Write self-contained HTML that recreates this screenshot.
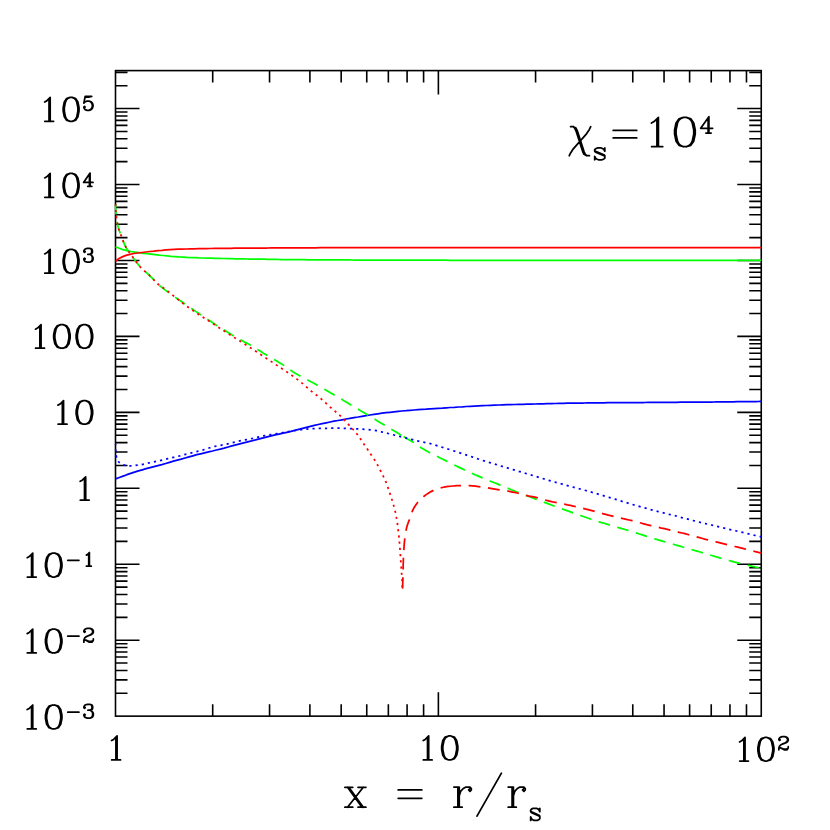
<!DOCTYPE html>
<html><head><meta charset="utf-8"><title>chart</title>
<style>html,body{margin:0;padding:0;background:#fff;font-family:"Liberation Sans",sans-serif}svg{display:block}</style></head>
<body>
<svg width="830" height="830" viewBox="0 0 830 830">
<defs><path id="g0" d="M9 -21 6 -20 4 -17 3 -12 3 -9 4 -4 6 -1 9 0 11 0 14 -1 16 -4 17 -9 17 -12 16 -17 14 -20 11 -21 9 -21 7 -20 6 -19 5 -17 4 -12 4 -9 5 -4 6 -2 7 -1 9 0M11 -21 13 -20 14 -19 15 -17 16 -12 16 -9 15 -4 14 -2 13 -1 11 0" vector-effect="non-scaling-stroke"/><path id="g1" d="M6.2 -17 8 -18 11 -21 11 0M10 -20 10 0M6.3 0 14 0" vector-effect="non-scaling-stroke"/><path id="g2" d="M6 -3 11 0 15 0 16 -1 17 -3 17 -5M6 -3 11 -1 14 -1 16 -2 17 -3M6 -3 4 -3 3 -2M12 -21 8 -21 5 -20 4 -19 3 -17 3 -16 4 -15 5 -16 4 -17M12 -21 15 -20 16 -19 17 -17 17 -15 16 -13 13 -11 8 -9M12 -21 14 -20 15 -19 16 -17 16 -15 15 -13 12 -11 6 -8 4 -6 3 -3 3 0" vector-effect="non-scaling-stroke"/><path id="g3" d="M12 -21 8 -21 5 -20 4 -19 3 -17 3 -16 4 -15 5 -16 4 -17M12 -21 15 -20 16 -18 16 -15 15 -13 12 -12 9 -12M12 -21 14 -20 15 -18 15 -15 14 -13 12 -12 14 -11 16 -9 17 -7 17 -4 16 -2 15 -1 12 0 8 0 5 -1 4 -2 3 -4 3 -5 4 -6 5 -5 4 -4M12 0 14 -1 15 -2 16 -4 16 -7 15 -10" vector-effect="non-scaling-stroke"/><path id="g4" d="M13 0 13 -21 2 -6 18 -6M12 -19 12 0M9 0 16 0" vector-effect="non-scaling-stroke"/><path id="g5" d="M5 -20 10 -20 15 -21 5 -21 3 -11 5 -13 8 -14 11 -14 14 -13 16 -11 17 -8 17 -6 16 -3 14 -1 11 0 8 0 5 -1 4 -2 3 -4 3 -5 4 -6 5 -5 4 -4M11 -14 13 -13 15 -11 16 -8 16 -6 15 -3 13 -1 11 0" vector-effect="non-scaling-stroke"/><path id="gminus" d="M4 -9 22 -9" vector-effect="non-scaling-stroke"/><path id="gx" d="M16 -14 4 0M4 -14 15 0M5 -14 16 0M12 -14 18 -14M2 0 8 0M2 -14 8 -14M12 0 18 0" vector-effect="non-scaling-stroke"/><path id="geq" d="M4 -12 22 -12M4 -6 22 -6" vector-effect="non-scaling-stroke"/><path id="gr" d="M6 0 6 -14 2 -14M5 -14 5 0M2 0 8.2 0M6 -8 7 -11 9 -13 11 -14 14 -14 15 -13 15 -12 14 -11 13 -12 14 -13" vector-effect="non-scaling-stroke"/><path id="gslash" d="M20 -25 2 7" vector-effect="non-scaling-stroke"/><path id="gs" d="M13 -12 14 -10 14 -14 13 -12 12 -13 10 -14 6 -14 4 -13 3 -12 3 -10 4 -9 13 -5 14 -4M4 -2 3 0 3 -4 4 -2 5 -1 7 0 11 0 13 -1 14 -2 14 -5 13 -6 4 -10 3 -11" vector-effect="non-scaling-stroke"/><path id="gchi" d="M2 -14 4 -14 6 -13 7 -11 12 4 13 6 14 7M4 -14 5 -13 6 -11 11 4 12 6 14 7 16 7M17 -14 16 -12 14 -9 4 2 2 5 1 7" vector-effect="non-scaling-stroke"/>
<clipPath id="cp"><rect x="114.6" y="69.7" width="647.55" height="647.35"/></clipPath>
</defs>
<rect width="830" height="830" fill="#fff"/>
<g fill="none" stroke="#000" stroke-width="1.6" stroke-linecap="square" stroke-linejoin="miter">
<path d="M115.5 693.29h12.0M761.25 693.29h-12.0M115.5 679.91h12.0M761.25 679.91h-12.0M115.5 670.43h12.0M761.25 670.43h-12.0M115.5 663.07h12.0M761.25 663.07h-12.0M115.5 657.05h12.0M761.25 657.05h-12.0M115.5 651.97h12.0M761.25 651.97h-12.0M115.5 647.56h12.0M761.25 647.56h-12.0M115.5 643.68h12.0M761.25 643.68h-12.0M115.5 640.2h24.0M761.25 640.2h-24.0M115.5 617.34h12.0M761.25 617.34h-12.0M115.5 603.97h12.0M761.25 603.97h-12.0M115.5 594.48h12.0M761.25 594.48h-12.0M115.5 587.12h12.0M761.25 587.12h-12.0M115.5 581.1h12.0M761.25 581.1h-12.0M115.5 576.02h12.0M761.25 576.02h-12.0M115.5 571.62h12.0M761.25 571.62h-12.0M115.5 567.73h12.0M761.25 567.73h-12.0M115.5 564.26h24.0M761.25 564.26h-24.0M115.5 541.39h12.0M761.25 541.39h-12.0M115.5 528.02h12.0M761.25 528.02h-12.0M115.5 518.53h12.0M761.25 518.53h-12.0M115.5 511.17h12.0M761.25 511.17h-12.0M115.5 505.16h12.0M761.25 505.16h-12.0M115.5 500.07h12.0M761.25 500.07h-12.0M115.5 495.67h12.0M761.25 495.67h-12.0M115.5 491.78h12.0M761.25 491.78h-12.0M115.5 488.31h24.0M761.25 488.31h-24.0M115.5 465.45h12.0M761.25 465.45h-12.0M115.5 452.07h12.0M761.25 452.07h-12.0M115.5 442.58h12.0M761.25 442.58h-12.0M115.5 435.22h12.0M761.25 435.22h-12.0M115.5 429.21h12.0M761.25 429.21h-12.0M115.5 424.13h12.0M761.25 424.13h-12.0M115.5 419.72h12.0M761.25 419.72h-12.0M115.5 415.84h12.0M761.25 415.84h-12.0M115.5 412.36h24.0M761.25 412.36h-24.0M115.5 389.5h12.0M761.25 389.5h-12.0M115.5 376.13h12.0M761.25 376.13h-12.0M115.5 366.64h12.0M761.25 366.64h-12.0M115.5 359.28h12.0M761.25 359.28h-12.0M115.5 353.26h12.0M761.25 353.26h-12.0M115.5 348.18h12.0M761.25 348.18h-12.0M115.5 343.77h12.0M761.25 343.77h-12.0M115.5 339.89h12.0M761.25 339.89h-12.0M115.5 336.41h24.0M761.25 336.41h-24.0M115.5 313.55h12.0M761.25 313.55h-12.0M115.5 300.18h12.0M761.25 300.18h-12.0M115.5 290.69h12.0M761.25 290.69h-12.0M115.5 283.33h12.0M761.25 283.33h-12.0M115.5 277.32h12.0M761.25 277.32h-12.0M115.5 272.23h12.0M761.25 272.23h-12.0M115.5 267.83h12.0M761.25 267.83h-12.0M115.5 263.94h12.0M761.25 263.94h-12.0M115.5 260.47h24.0M761.25 260.47h-24.0M115.5 237.61h12.0M761.25 237.61h-12.0M115.5 224.23h12.0M761.25 224.23h-12.0M115.5 214.74h12.0M761.25 214.74h-12.0M115.5 207.38h12.0M761.25 207.38h-12.0M115.5 201.37h12.0M761.25 201.37h-12.0M115.5 196.28h12.0M761.25 196.28h-12.0M115.5 191.88h12.0M761.25 191.88h-12.0M115.5 188h12.0M761.25 188h-12.0M115.5 184.52h24.0M761.25 184.52h-24.0M115.5 161.66h12.0M761.25 161.66h-12.0M115.5 148.28h12.0M761.25 148.28h-12.0M115.5 138.8h12.0M761.25 138.8h-12.0M115.5 131.44h12.0M761.25 131.44h-12.0M115.5 125.42h12.0M761.25 125.42h-12.0M115.5 120.34h12.0M761.25 120.34h-12.0M115.5 115.93h12.0M761.25 115.93h-12.0M115.5 112.05h12.0M761.25 112.05h-12.0M115.5 108.57h24.0M761.25 108.57h-24.0M115.5 85.71h12.0M761.25 85.71h-12.0M115.5 72.34h12.0M761.25 72.34h-12.0M212.7 716.15v-12.0M212.7 70.6v12.0M269.55 716.15v-12.0M269.55 70.6v12.0M309.89 716.15v-12.0M309.89 70.6v12.0M341.18 716.15v-12.0M341.18 70.6v12.0M366.75 716.15v-12.0M366.75 70.6v12.0M388.36 716.15v-12.0M388.36 70.6v12.0M407.09 716.15v-12.0M407.09 70.6v12.0M423.6 716.15v-12.0M423.6 70.6v12.0M438.38 716.15v-24.0M438.38 70.6v24.0M535.57 716.15v-12.0M535.57 70.6v12.0M592.43 716.15v-12.0M592.43 70.6v12.0M632.77 716.15v-12.0M632.77 70.6v12.0M664.05 716.15v-12.0M664.05 70.6v12.0M689.62 716.15v-12.0M689.62 70.6v12.0M711.24 716.15v-12.0M711.24 70.6v12.0M729.96 716.15v-12.0M729.96 70.6v12.0M746.48 716.15v-12.0M746.48 70.6v12.0" stroke-linecap="butt"/>
<rect x="115.5" y="70.6" width="645.75" height="645.55"/>
</g>
<g fill="none" stroke-width="1.6" stroke-linecap="butt" stroke-linejoin="round" clip-path="url(#cp)">
<path d="M115.5 246.7 119.2 248.3 123.0 249.7 127.0 250.6 130.9 251.5 134.9 252.2 138.9 252.7 142.9 253.3 146.9 253.7 150.9 254.2 154.9 254.7 159.0 255.2 163.0 255.5 167.0 255.9 171.0 256.3 175.1 256.6 179.1 256.9 183.1 257.1 187.2 257.4 191.2 257.6 195.2 257.7 199.3 257.9 203.3 258.0 207.4 258.1 211.4 258.2 215.5 258.3 219.5 258.4 223.5 258.5 227.6 258.6 231.6 258.7 235.7 258.8 239.7 258.8 243.8 258.9 247.8 259.0 251.8 259.0 255.9 259.1 259.9 259.2 264.0 259.2 268.0 259.3 272.1 259.4 276.1 259.4 280.1 259.5 284.2 259.5 288.2 259.6 292.3 259.6 296.3 259.7 300.4 259.7 304.4 259.7 308.4 259.8 312.5 259.8 316.5 259.8 320.6 259.8 324.6 259.8 328.7 259.9 332.7 259.9 336.7 259.9 340.8 259.9 344.8 259.9 348.9 259.9 352.9 260.0 357.0 260.0 361.0 260.0 365.0 260.0 369.1 260.0 373.1 260.0 377.2 260.0 381.2 260.0 385.3 260.1 389.3 260.1 393.4 260.1 397.4 260.1 401.4 260.1 405.5 260.1 409.5 260.1 413.6 260.1 417.6 260.2 421.7 260.2 425.7 260.2 429.7 260.2 433.8 260.2 437.8 260.2 441.9 260.2 445.9 260.2 450.0 260.3 454.0 260.3 458.0 260.3 462.1 260.3 466.1 260.3 470.2 260.3 474.2 260.3 478.3 260.3 482.3 260.3 486.4 260.3 490.4 260.3 494.4 260.3 498.5 260.3 502.5 260.3 506.6 260.3 510.6 260.3 514.7 260.3 518.7 260.3 522.7 260.3 526.8 260.3 530.8 260.3 534.9 260.3 538.9 260.3 543.0 260.3 547.0 260.3 551.0 260.3 555.1 260.3 559.1 260.3 563.2 260.3 567.2 260.3 571.3 260.3 575.3 260.3 579.3 260.3 583.4 260.3 587.4 260.3 591.5 260.3 595.5 260.3 599.6 260.3 603.6 260.3 607.7 260.3 611.7 260.3 615.7 260.3 619.8 260.3 623.8 260.3 627.9 260.3 631.9 260.3 636.0 260.3 640.0 260.3 644.0 260.3 648.1 260.3 652.1 260.3 656.2 260.3 660.2 260.3 664.3 260.3 668.3 260.3 672.3 260.3 676.4 260.3 680.4 260.3 684.5 260.3 688.5 260.3 692.6 260.3 696.6 260.3 700.6 260.3 704.7 260.3 708.7 260.3 712.8 260.3 716.8 260.3 720.9 260.3 724.9 260.3 729.0 260.3 733.0 260.3 737.0 260.3 741.1 260.3 745.1 260.3 749.2 260.3 753.2 260.3 757.3 260.3 761.3 260.3" stroke="#00ff00" stroke-width="1.75"/>
<path d="M115.5 261.3 118.6 258.7 122.2 256.9 126.0 255.4 129.9 254.3 133.9 253.5 137.9 253.0 141.9 252.5 145.9 252.0 149.9 251.5 154.0 251.1 158.0 250.6 162.0 250.3 166.0 249.9 170.1 249.6 174.1 249.4 178.2 249.2 182.2 249.1 186.3 249.0 190.3 248.9 194.4 248.8 198.4 248.7 202.5 248.6 206.5 248.6 210.6 248.5 214.6 248.4 218.7 248.4 222.7 248.3 226.8 248.3 230.8 248.3 234.9 248.2 238.9 248.2 243.0 248.2 247.0 248.1 251.1 248.1 255.1 248.1 259.2 248.0 263.2 248.0 267.3 248.0 271.3 247.9 275.4 247.9 279.4 247.9 283.5 247.9 287.5 247.9 291.6 247.8 295.6 247.8 299.7 247.8 303.7 247.8 307.8 247.8 311.8 247.8 315.9 247.8 319.9 247.7 323.9 247.7 328.0 247.7 332.0 247.7 336.1 247.7 340.1 247.7 344.2 247.7 348.2 247.7 352.3 247.7 356.3 247.7 360.4 247.7 364.4 247.7 368.5 247.6 372.5 247.6 376.6 247.6 380.6 247.6 384.7 247.6 388.7 247.6 392.8 247.6 396.8 247.6 400.9 247.6 404.9 247.6 409.0 247.6 413.0 247.6 417.1 247.6 421.1 247.6 425.2 247.6 429.2 247.6 433.3 247.5 437.3 247.5 441.4 247.5 445.4 247.5 449.5 247.5 453.5 247.5 457.6 247.5 461.6 247.5 465.7 247.5 469.7 247.5 473.8 247.5 477.8 247.5 481.9 247.5 485.9 247.5 490.0 247.5 494.0 247.5 498.1 247.5 502.1 247.5 506.2 247.5 510.2 247.5 514.3 247.5 518.3 247.5 522.4 247.5 526.4 247.5 530.5 247.5 534.5 247.5 538.6 247.5 542.6 247.5 546.7 247.5 550.7 247.5 554.8 247.5 558.8 247.5 562.9 247.5 566.9 247.5 571.0 247.5 575.0 247.5 579.1 247.5 583.1 247.5 587.2 247.5 591.2 247.5 595.3 247.5 599.3 247.5 603.4 247.5 607.4 247.5 611.5 247.5 615.5 247.5 619.6 247.5 623.6 247.5 627.7 247.5 631.7 247.5 635.8 247.5 639.8 247.5 643.9 247.5 647.9 247.5 652.0 247.5 656.0 247.5 660.1 247.5 664.1 247.5 668.2 247.5 672.2 247.5 676.3 247.5 680.3 247.5 684.4 247.5 688.4 247.5 692.5 247.5 696.5 247.5 700.6 247.5 704.6 247.5 708.7 247.5 712.7 247.5 716.8 247.5 720.8 247.5 724.9 247.5 728.9 247.5 733.0 247.5 737.0 247.5 741.1 247.5 745.1 247.5 749.2 247.5 753.2 247.5 757.3 247.5 761.3 247.5" stroke="#ff0000" stroke-width="1.75"/>
<path d="M115.5 478.9 119.3 477.5 123.1 476.1 126.9 474.7 130.7 473.4 134.5 472.1 138.4 470.9 142.3 469.8 146.1 468.7 150.1 467.7 154.0 466.7 157.9 465.7 161.8 464.7 165.7 463.5 169.5 462.3 173.4 461.2 177.3 460.1 181.2 459.1 185.1 458.0 189.0 456.9 192.9 455.8 196.8 454.7 200.7 453.8 204.6 452.9 208.6 451.9 212.5 451.0 216.4 450.0 220.3 449.1 224.2 448.1 228.1 447.0 232.0 445.9 235.9 444.8 239.8 443.8 243.7 442.8 247.7 441.8 251.6 440.9 255.5 439.9 259.4 438.8 263.3 437.8 267.2 436.8 271.2 435.8 275.1 434.9 279.0 434.1 283.0 433.2 286.9 432.3 290.9 431.4 294.8 430.4 298.7 429.3 302.6 428.3 306.5 427.3 310.4 426.3 314.3 425.4 318.3 424.5 322.2 423.6 326.2 422.8 330.1 422.0 334.1 421.2 338.1 420.5 342.0 419.8 346.0 419.0 350.0 418.3 354.0 417.6 358.0 417.0 362.0 416.3 365.9 415.7 369.9 415.0 373.9 414.4 377.9 413.8 381.9 413.2 385.9 412.7 389.9 412.3 394.0 411.8 398.0 411.4 402.0 411.0 406.0 410.7 410.0 410.3 414.1 410.0 418.1 409.7 422.1 409.4 426.2 409.2 430.2 408.9 434.2 408.6 438.2 408.3 442.3 408.1 446.3 407.8 450.3 407.5 454.4 407.3 458.4 407.0 462.4 406.8 466.5 406.5 470.5 406.3 474.5 406.1 478.6 405.9 482.6 405.7 486.6 405.5 490.7 405.3 494.7 405.1 498.8 405.0 502.8 404.8 506.8 404.7 510.9 404.6 514.9 404.5 518.9 404.4 523.0 404.3 527.0 404.2 531.1 404.1 535.1 404.0 539.1 403.9 543.2 403.8 547.2 403.7 551.2 403.6 555.3 403.5 559.3 403.4 563.4 403.3 567.4 403.2 571.4 403.2 575.5 403.1 579.5 403.0 583.6 403.0 587.6 402.9 591.6 402.9 595.7 402.8 599.7 402.8 603.8 402.8 607.8 402.7 611.8 402.7 615.9 402.7 619.9 402.6 624.0 402.6 628.0 402.6 632.0 402.5 636.1 402.5 640.1 402.5 644.2 402.5 648.2 402.4 652.2 402.4 656.3 402.4 660.3 402.4 664.4 402.3 668.4 402.3 672.4 402.3 676.5 402.3 680.5 402.2 684.5 402.2 688.6 402.2 692.6 402.1 696.7 402.1 700.7 402.1 704.7 402.0 708.8 402.0 712.8 402.0 716.9 401.9 720.9 401.9 724.9 401.9 729.0 401.8 733.0 401.8 737.1 401.7 741.1 401.7 745.1 401.6 749.2 401.6 753.2 401.5 757.3 401.5 761.3 401.4" stroke="#0000ff" stroke-width="1.75"/>
<path d="M115.5 204.0 115.6 207.0 115.7 210.0 115.9 213.0 116.3 216.0 116.7 219.0 117.2 222.0 117.7 225.0 118.4 227.9 119.3 230.8 120.4 233.6 121.5 236.4 122.5 239.3 123.6 242.1 124.7 244.9 126.1 247.5 127.7 250.1 129.4 252.5 131.3 255.0 133.0 257.4 134.8 259.9 136.6 262.3 138.4 264.7 140.4 267.0 142.5 269.1 144.7 271.1 147.0 273.1 149.2 275.1 151.4 277.3 153.5 279.4 155.6 281.6 157.7 283.7 159.9 285.8 162.2 287.7 164.6 289.6 167.0 291.4 169.4 293.2 171.9 294.9 174.4 296.6 176.8 298.4 179.4 300.1 181.8 301.8 184.3 303.5 186.8 305.2 189.3 306.9 191.8 308.6 194.2 310.4 196.7 312.1 199.2 313.7 201.7 315.4 204.2 317.1 206.7 318.8 209.3 320.5 211.8 322.1 214.3 323.8 216.8 325.4 219.4 327.0 221.9 328.6 224.5 330.2 227.0 331.8 229.6 333.4 232.2 335.0 234.8 336.5 237.4 338.0 240.0 339.5 242.7 340.9 245.3 342.4 248.0 343.8 250.6 345.3 253.2 346.9 255.7 348.4 258.3 350.0 260.9 351.6 263.4 353.2 266.0 354.7 268.6 356.3 271.2 357.8 273.8 359.3 276.4 360.8 279.0 362.4 281.6 363.9 284.1 365.6 286.6 367.4 289.0 369.2 291.5 370.8 294.0 372.4 296.6 374.0 299.2 375.5 301.9 376.9 304.5 378.3 307.2 379.8 309.9 381.2 312.5 382.6 315.2 384.1 317.8 385.6 320.4 387.0 323.1 388.5 325.7 390.0 328.3 391.5 330.9 393.0 333.5 394.5 336.1 396.0 338.7 397.6 341.3 399.1 343.9 400.7 346.5 402.2 349.0 403.8 351.6 405.4 354.2 406.9 356.8 408.4 359.4 410.0 362.0 411.5 364.6 413.1 367.2 414.6 369.7 416.2 372.3 417.8 374.9 419.3 377.5 420.9 380.0 422.5 382.6 424.0 385.2 425.6 387.8 427.1 390.4 428.7 393.0 430.2 395.6 431.8 398.1 433.3 400.7 434.9 403.3 436.4 403.5 436.5" stroke="#00ff00" stroke-width="1.75" stroke-dasharray="11.9 7.6" stroke-dashoffset="1.5"/>
<path d="M403.5 436.5 405.9 437.9 408.5 439.4 411.1 441.0 413.7 442.6 416.2 444.3 418.6 446.1 421.1 447.8 423.7 449.3 426.3 450.8 428.9 452.2 431.6 453.6 434.3 455.0 437.0 456.3 439.7 457.7 442.4 459.0 445.1 460.4 447.8 461.7 450.5 463.1 453.2 464.4 455.9 465.8 458.6 467.1 461.3 468.4 464.1 469.7 466.8 471.0 469.5 472.2 472.3 473.5 475.0 474.7 477.8 475.9 480.6 477.1 483.3 478.3 486.1 479.4 488.9 480.6 491.7 481.7 494.5 482.8 497.3 483.9 500.1 485.1 502.9 486.2 505.7 487.4 508.5 488.5 511.3 489.7 514.0 490.8 516.8 492.0 519.6 493.1 522.5 494.2 525.3 495.2 528.1 496.3 530.9 497.3 533.8 498.4 536.6 499.4 539.4 500.5 542.2 501.5 545.1 502.6 547.9 503.6 550.7 504.7 553.5 505.7 556.4 506.8 559.2 507.8 562.0 508.9 564.9 509.9 567.7 510.9 570.5 511.9 573.4 513.0 576.2 514.0 579.0 515.0 581.9 516.0 584.7 517.0 587.6 518.0 590.4 519.0 593.3 520.0 596.2 520.9 599.0 521.8 601.9 522.7 604.8 523.5 607.7 524.4 610.6 525.3 613.5 526.2 616.4 527.0 619.3 527.8 622.1 528.7 625.0 529.5 627.9 530.4 630.8 531.3 633.7 532.2 636.6 533.1 639.4 534.0 642.3 534.9 645.2 535.9 648.0 536.8 650.9 537.7 653.8 538.6 656.7 539.4 659.6 540.3 662.5 541.2 665.4 542.0 668.2 542.9 671.1 543.7 674.1 544.5 677.0 545.3 679.9 546.1 682.8 547.0 685.7 547.8 688.6 548.6 691.5 549.5 694.3 550.3 697.2 551.2 700.1 552.0 703.0 552.9 705.9 553.7 708.8 554.6 711.7 555.5 714.6 556.4 717.5 557.2 720.4 558.1 723.3 558.9 726.2 559.7 729.1 560.5 732.0 561.3 734.9 562.1 737.8 562.8 740.7 563.6 743.7 564.3 746.6 565.0 749.5 565.7 752.5 566.4 755.4 567.0 758.3 567.7 761.3 568.3" stroke="#00ff00" stroke-width="1.75" stroke-dasharray="11.8 7.6" stroke-dashoffset="19.3"/>
<path d="M115.5 204.0 115.6 207.0 115.7 210.0 115.9 213.1 116.3 216.1 116.7 219.1 117.2 222.1 117.8 225.0 118.5 228.0 119.3 230.9 120.5 233.7 121.5 236.5 122.5 239.4 123.6 242.2 124.8 245.0 126.2 247.7 127.8 250.2 129.5 252.7 131.4 255.1 133.1 257.6 134.9 260.0 136.7 262.5 138.5 264.9 140.5 267.2 142.7 269.3 144.9 271.3 147.2 273.3 149.4 275.3 151.6 277.5 153.6 279.7 155.7 281.9 157.9 284.0 160.3 285.8 162.8 287.5 165.3 289.3 167.7 291.1 170.0 293.0 172.4 294.9 174.7 296.8 177.1 298.7 179.5 300.6 181.8 302.5 184.2 304.4 186.7 306.2 189.1 307.9 191.6 309.6 194.1 311.3 196.6 313.0 199.1 314.7 201.7 316.3 204.2 318.0 206.8 319.6 209.3 321.3 211.8 322.9 214.4 324.6 216.9 326.3 219.4 327.9 221.9 329.6 224.5 331.2 227.0 332.9 229.5 334.5 232.1 336.2 234.7 337.8 237.2 339.4 239.8 341.0 242.4 342.6 244.9 344.2 247.4 345.9 250.0 347.5 252.5 349.2 255.0 350.8 257.6 352.5 260.1 354.2 262.6 355.8 265.1 357.5 267.7 359.2 270.2 360.8 272.7 362.5 275.2 364.2 277.7 365.9 280.2 367.6 282.8 369.2 285.3 370.9 287.8 372.6 290.3 374.3 292.8 376.1 295.2 377.8 297.6 379.6 300.0 381.5 302.4 383.4 304.7 385.4 306.9 387.4 309.2 389.4 311.5 391.3 313.9 393.2 316.3 395.0 318.7 396.9 321.1 398.8 323.3 400.8 325.6 402.8 327.8 404.8 330.0 406.9 332.3 408.9 334.6 410.8 336.9 412.8 339.2 414.8 341.3 416.9 343.5 419.1 345.5 421.3 347.6 423.5 349.6 425.7 351.7 427.9 353.8 430.2 355.8 432.5 357.6 434.8 359.4 437.3 361.1 439.8 362.7 442.3 364.4 444.8 366.1 447.3 367.8 449.8 369.5 452.4 371.2 454.9 372.9 457.4 374.6 459.9 376.2 462.5 377.6 465.1 379.0 467.8 380.4 470.5 381.7 473.2 383.1 475.9 384.5 478.6 385.7 481.4 386.8 484.2 387.8 487.1 388.7 489.9 389.7 492.8 390.7 495.7 391.6 498.6 392.5 501.4 393.3 504.3 394.2 507.3 394.9 510.2 395.6 513.1 396.2 516.1 396.7 519.1 397.2 522.1 397.6 525.1 398.0 528.1 398.3 531.1 398.7 534.1 399.0 537.1 399.3 540.1 399.5 543.1 399.8 546.1 400.0 549.1 400.2 552.2 400.4 555.2 400.6 558.2 400.8 561.2 401.0 564.2 401.2 567.3 401.4 570.3 401.6 573.3 401.9 576.3 402.1 579.3 402.2 582.4 402.3 585.4 402.4 588.4" stroke="#ff0000" stroke-width="1.75" stroke-dasharray="2.2 4.04" stroke-dashoffset="0.3"/>
<path d="M402.5 588.6 402.6 585.6 402.8 582.5 402.9 579.5 402.9 576.5 403.0 573.5 403.1 570.4 403.1 567.4 403.2 564.4 403.3 561.4 403.4 558.3 403.5 555.3 403.7 552.3 403.9 549.2 404.1 546.2 404.3 543.2 404.6 540.2 405.0 537.2 405.4 534.2 405.9 531.2 406.5 528.2 407.3 525.3 408.3 522.5 409.4 519.6 410.4 516.7 411.4 513.9 412.4 511.0 413.7 508.3 415.3 505.7 417.0 503.2 419.0 500.9 421.1 498.8 423.4 496.8 425.8 494.9 428.3 493.2 431.0 491.6 433.6 490.3 436.5 489.2 439.4 488.2 442.3 487.5 445.2 486.9 448.3 486.4 451.3 486.1 452.0 486.0" stroke="#ff0000" stroke-width="1.75" stroke-dasharray="11.9 7.6" stroke-dashoffset="0.5"/>
<path d="M452.0 486.0 454.3 485.9 457.3 485.7 460.3 485.6 463.4 485.6 466.4 485.6 469.4 485.7 472.4 485.8 475.5 486.2 478.5 486.6 481.5 487.0 484.5 487.4 487.5 487.8 490.5 488.3 493.4 488.8 496.4 489.3 499.4 489.8 502.4 490.3 505.4 490.7 508.4 491.2 511.4 491.8 514.3 492.4 517.3 493.0 520.2 493.8 523.1 494.7 526.0 495.4 529.0 496.1 532.0 496.6 535.0 497.1 537.9 497.8 540.8 498.7 543.7 499.6 546.6 500.4 549.6 501.1 552.5 501.8 555.5 502.4 558.5 503.0 561.4 503.6 564.4 504.1 567.4 504.8 570.3 505.4 573.3 506.1 576.2 506.7 579.2 507.4 582.1 508.1 585.1 508.9 588.0 509.6 590.9 510.4 593.9 511.2 596.8 512.0 599.7 512.8 602.6 513.6 605.5 514.4 608.5 515.2 611.4 515.9 614.3 516.6 617.3 517.3 620.2 518.0 623.2 518.7 626.2 519.3 629.1 520.0 632.1 520.7 635.0 521.5 637.9 522.2 640.8 523.0 643.8 523.8 646.7 524.6 649.6 525.3 652.6 526.0 655.5 526.7 658.5 527.4 661.4 528.1 664.4 528.7 667.3 529.4 670.3 530.1 673.2 530.8 676.2 531.5 679.1 532.3 682.0 533.0 685.0 533.7 687.9 534.5 690.8 535.3 693.8 536.1 696.7 536.9 699.6 537.7 702.5 538.5 705.5 539.3 708.4 540.0 711.3 540.7 714.3 541.5 717.2 542.2 720.1 542.9 723.1 543.6 726.0 544.3 729.0 545.0 731.9 545.8 734.9 546.5 737.8 547.2 740.7 547.9 743.7 548.6 746.6 549.4 749.6 550.1 752.5 550.8 755.4 551.6 758.4 552.3 761.3 553.1" stroke="#ff0000" stroke-width="1.75" stroke-dasharray="11.9 7.6" stroke-dashoffset="2.9"/>
<path d="M115.5 443.9 115.6 446.9 115.7 449.9 115.9 453.0 116.3 456.0 117.0 459.0 118.4 461.7 120.6 463.6 123.4 464.9 126.4 465.7 129.4 465.9 132.4 465.7 135.4 465.5 138.4 465.1 141.4 464.7 144.4 464.0 147.3 463.3 150.3 462.7 153.2 462.0 156.2 461.4 159.2 460.8 162.1 460.1 165.0 459.4 168.0 458.7 170.9 458.0 173.9 457.3 176.8 456.6 179.8 455.9 182.7 455.1 185.6 454.3 188.6 453.7 191.5 452.9 194.4 452.1 197.4 451.4 200.3 450.7 203.2 449.9 206.1 449.0 209.0 448.0 211.9 447.1 214.8 446.4 217.8 445.8 220.7 445.3 223.7 444.7 226.7 444.2 229.6 443.5 232.6 442.7 235.5 441.9 238.4 441.2 241.4 440.6 244.4 440.0 247.3 439.5 250.3 438.9 253.3 438.2 256.2 437.5 259.2 436.8 262.1 436.1 265.1 435.6 268.1 435.1 271.1 434.6 274.0 434.1 277.0 433.6 280.0 433.1 283.0 432.5 286.0 432.0 288.9 431.5 291.9 431.0 294.9 430.5 297.9 430.1 300.9 429.7 303.9 429.4 306.9 429.1 310.0 428.8 313.0 428.6 316.0 428.5 319.0 428.4 322.0 428.3 325.1 428.3 328.1 428.3 331.1 428.2 334.1 428.2 337.2 428.2 340.2 428.2 343.2 428.3 346.2 428.4 349.3 428.5 352.3 428.6 355.3 428.8 358.3 428.9 361.4 429.1 364.4 429.3 367.4 429.6 370.4 429.9 373.4 430.3 376.4 430.7 379.4 431.4 382.3 432.1 385.2 432.8 388.2 433.5 391.1 434.3 394.0 435.0 397.0 435.8 399.9 436.5 402.9 437.2 405.8 437.9 408.7 438.7 411.7 439.4 414.6 440.2 417.5 440.9 420.5 441.6 423.4 442.2 426.4 442.8 429.4 443.4 432.3 444.2 435.2 445.1 438.1 446.0 441.0 446.9 443.9 447.8 446.7 448.7 449.6 449.6 452.5 450.5 455.4 451.4 458.3 452.3 461.2 453.3 464.0 454.2 466.9 455.2 469.8 456.1 472.7 457.1 475.5 458.1 478.4 459.0 481.3 460.0 484.1 460.9 487.0 461.8 489.9 462.7 492.8 463.6 495.7 464.4 498.6 465.3 501.5 466.2 504.4 467.0 507.3 467.9 510.2 468.8 513.1 469.6 516.0 470.5 518.9 471.4 521.8 472.2 524.7 473.1 527.6 474.0 530.5 474.8 533.4 475.7 536.3 476.6 539.2 477.5 542.1 478.3 545.0 479.2 547.9 480.1 550.8 480.9 553.7 481.7 556.6 482.6 559.5 483.4 562.4 484.2 565.4 485.0 568.3 485.8 571.2 486.6 574.1 487.4 577.0 488.2 580.0 489.0 582.9 489.8 585.8 490.5 588.7 491.3 591.6 492.2 594.5 493.0 597.4 493.9 600.3 494.8 603.2 495.6 606.1 496.5 609.0 497.4 611.9 498.3 614.8 499.1 617.7 500.0 620.6 500.9 623.5 501.8 626.4 502.6 629.3 503.5 632.2 504.4 635.1 505.2 638.0 506.0 640.9 506.9 643.8 507.7 646.8 508.5 649.7 509.3 652.6 510.1 655.5 510.9 658.4 511.7 661.4 512.4 664.3 513.1 667.3 513.9 670.2 514.6 673.1 515.3 676.1 516.0 679.0 516.8 681.9 517.6 684.8 518.3 687.8 519.1 690.7 519.9 693.6 520.7 696.6 521.4 699.5 522.2 702.4 522.9 705.4 523.6 708.3 524.3 711.3 525.0 714.2 525.7 717.1 526.4 720.1 527.1 723.0 527.8 726.0 528.5 728.9 529.2 731.9 529.9 734.8 530.6 737.7 531.3 740.7 532.0 743.6 532.7 746.6 533.4 749.5 534.1 752.5 534.8 755.4 535.5 758.4 536.2 761.3 536.9" stroke="#0000ff" stroke-width="1.75" stroke-dasharray="2.2 4.04" stroke-dashoffset="0.9"/>

</g>
<g fill="none" stroke="#000" stroke-width="1.75" stroke-linecap="round" stroke-linejoin="round">
<use href="#g1" transform="matrix(1.1603 0 0 1.1381 19.98 728.92)"/><use href="#g0" transform="matrix(1.1750 0 0 1.1381 41.95 728.92)"/><use href="#gminus" transform="matrix(0.6194 0 0 0.6650 65.30 718.15)"/><use href="#g3" transform="matrix(0.6750 0 0 0.6548 81.85 718.07)"/><use href="#g1" transform="matrix(1.1603 0 0 1.1381 19.98 652.98)"/><use href="#g0" transform="matrix(1.1750 0 0 1.1381 41.95 652.98)"/><use href="#gminus" transform="matrix(0.6194 0 0 0.6650 65.30 642.20)"/><use href="#g2" transform="matrix(0.6750 0 0 0.6548 81.85 642.13)"/><use href="#g1" transform="matrix(1.1603 0 0 1.1381 19.98 577.03)"/><use href="#g0" transform="matrix(1.1750 0 0 1.1381 41.95 577.03)"/><use href="#gminus" transform="matrix(0.6194 0 0 0.6650 65.30 566.26)"/><use href="#g1" transform="matrix(0.6218 0 0 0.6500 82.52 566.18)"/><use href="#g1" transform="matrix(1.1474 0 0 1.1071 73.06 500.13)"/><use href="#g1" transform="matrix(1.1603 0 0 1.1214 50.78 424.19)"/><use href="#g0" transform="matrix(1.1750 0 0 1.1214 72.65 424.19)"/><use href="#g1" transform="matrix(1.1603 0 0 1.1214 28.28 348.24)"/><use href="#g0" transform="matrix(1.1750 0 0 1.1214 50.15 348.24)"/><use href="#g0" transform="matrix(1.1750 0 0 1.1214 72.65 348.24)"/><use href="#g1" transform="matrix(1.1474 0 0 1.1381 37.56 273.24)"/><use href="#g0" transform="matrix(1.1321 0 0 1.1381 59.78 273.24)"/><use href="#g3" transform="matrix(0.6536 0 0 0.6595 81.91 262.19)"/><use href="#g1" transform="matrix(1.1474 0 0 1.1381 37.56 197.30)"/><use href="#g0" transform="matrix(1.1321 0 0 1.1381 59.78 197.30)"/><use href="#g4" transform="matrix(0.5906 0 0 0.6262 82.39 186.25)"/><use href="#g1" transform="matrix(1.1474 0 0 1.1381 37.56 121.35)"/><use href="#g0" transform="matrix(1.1321 0 0 1.1381 59.78 121.35)"/><use href="#g5" transform="matrix(0.6536 0 0 0.6595 81.91 110.30)"/><use href="#g1" transform="matrix(1.1474 0 0 1.1405 104.46 759.92)"/><use href="#g1" transform="matrix(1.1474 0 0 1.1405 416.06 759.92)"/><use href="#g0" transform="matrix(1.1536 0 0 1.1405 438.21 759.92)"/><use href="#g1" transform="matrix(1.1346 0 0 1.1214 732.54 761.02)"/><use href="#g0" transform="matrix(1.1464 0 0 1.1214 754.44 761.02)"/><use href="#g2" transform="matrix(0.6679 0 0 0.6262 776.87 749.83)"/><use href="#gchi" transform="matrix(1.3406 0 0 1.3833 567.93 146.04)"/><use href="#gs" transform="matrix(0.9227 0 0 0.8464 591.91 159.82)"/><use href="#geq" transform="matrix(1.3083 0 0 1.2583 607.94 145.48)"/><use href="#g1" transform="matrix(1.4423 0 0 1.3976 642.53 146.72)"/><use href="#g0" transform="matrix(1.4750 0 0 1.3976 670.15 146.72)"/><use href="#g4" transform="matrix(0.7469 0 0 0.7786 699.18 133.03)"/><use href="#gx" transform="matrix(1.3156 0 0 1.4250 342.24 807.23)"/><use href="#geq" transform="matrix(1.3139 0 0 1.3917 392.92 806.68)"/><use href="#gr" transform="matrix(1.3423 0 0 1.4393 451.19 807.23)"/><use href="#gslash" transform="matrix(1.3583 0 0 1.3422 474.26 806.73)"/><use href="#gr" transform="matrix(1.3115 0 0 1.4393 505.55 807.23)"/><use href="#gs" transform="matrix(0.8318 0 0 0.8679 528.18 820.42)"/>
</g>
</svg>
</body></html>
